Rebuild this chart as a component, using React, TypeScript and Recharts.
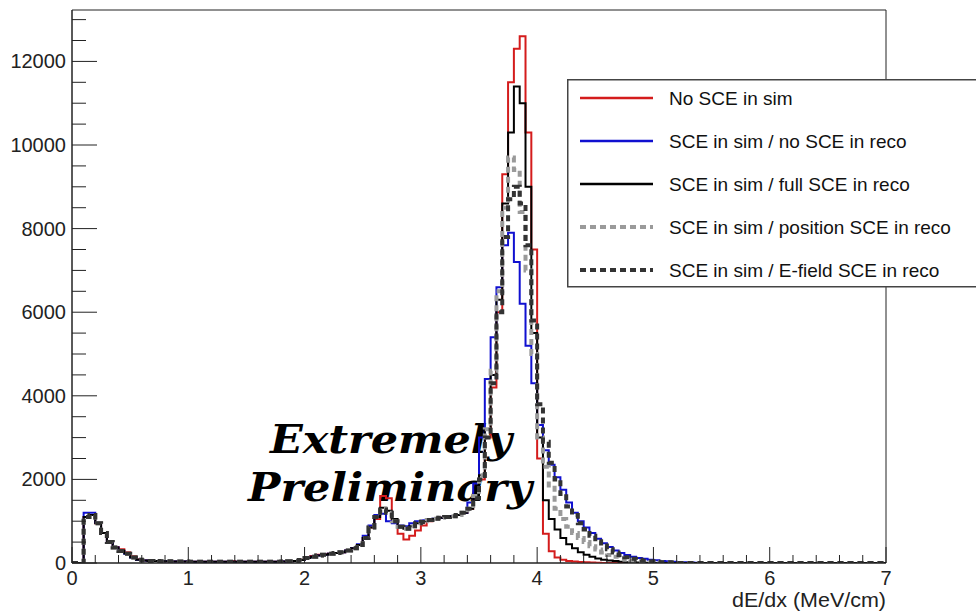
import { LineChart, Line, XAxis, YAxis, Legend, ReferenceArea } from 'recharts';

// histogram bins: 0.05 MeV/cm wide, starting at 0
const BIN_WIDTH = 0.05;

const NO_SCE = [
    0, 0, 1100, 1150, 950, 720, 500, 380, 330, 260,
    170, 90, 60, 50, 45, 40, 40, 35, 35, 35,
    30, 30, 30, 30, 30, 30, 30, 50, 30, 30,
    30, 30, 30, 30, 30, 30, 35, 40, 50, 80,
    140, 170, 200, 210, 220, 240, 260, 300, 350, 430,
    600, 850, 1050, 1600, 1550, 1000, 700, 560, 650, 780,
    900, 1000, 1050, 1080, 1100, 1120, 1150, 1200, 1300, 1600,
    2000, 3000, 4200, 6000, 9300, 11500, 12300, 12600, 10300, 7500,
    2500, 700, 280, 130, 80, 50, 35, 25, 15, 10,
    5, 0, 0, 0, 0, 0, 0, 0, 0, 0,
    0, 0, 0, 0, 0, 0, 0, 0, 0, 0,
    0, 0, 0, 0, 0, 0, 0, 0, 0, 0,
    0, 0, 0, 0, 0, 0, 0, 0, 0, 0,
    0, 0, 0, 0, 0, 0, 0, 0, 0, 0,
];

const SIM_NO_RECO = [
    0, 0, 1200, 1200, 960, 720, 500, 370, 290, 220,
    130, 80, 60, 50, 45, 40, 40, 35, 35, 35,
    30, 30, 30, 30, 30, 30, 30, 30, 30, 30,
    30, 30, 30, 30, 30, 30, 35, 40, 50, 70,
    120, 150, 180, 200, 220, 240, 260, 300, 350, 450,
    650, 900, 1150, 1180, 1000, 950, 900, 880, 950, 1000,
    1020, 1040, 1060, 1080, 1100, 1120, 1150, 1200, 1450, 1900,
    3000, 4400, 5400, 6600, 7600, 7900, 7200, 6200, 5200, 4300,
    3300, 2700, 2350, 2050, 1750, 1450, 1200, 1000, 850, 720,
    580, 470, 380, 300, 240, 190, 150, 120, 100, 80,
    65, 50, 40, 30, 20, 15, 10, 5, 0, 0,
    0, 0, 0, 0, 0, 0, 0, 0, 0, 0,
    0, 0, 0, 0, 0, 0, 0, 0, 0, 0,
    0, 0, 0, 0, 0, 0, 0, 0, 0, 0,
];

const SIM_FULL_RECO = [
    0, 0, 1100, 1150, 950, 720, 500, 370, 300, 230,
    130, 80, 60, 50, 45, 40, 40, 35, 35, 35,
    30, 30, 30, 30, 30, 30, 30, 30, 30, 30,
    30, 30, 30, 30, 30, 30, 35, 40, 50, 70,
    120, 150, 180, 200, 220, 240, 260, 300, 350, 430,
    600, 850, 1100, 1320, 1250, 1050, 850, 820, 880, 950,
    1000, 1030, 1060, 1080, 1100, 1120, 1150, 1200, 1300, 1600,
    2100, 3200, 4500, 6300, 8600, 10300, 11400, 11000, 9000, 5500,
    3000, 1500, 1050, 800, 600, 450, 350, 260, 200, 150,
    110, 80, 60, 45, 30, 20, 15, 10, 5, 0,
    0, 0, 0, 0, 0, 0, 0, 0, 0, 0,
    0, 0, 0, 0, 0, 0, 0, 0, 0, 0,
    0, 0, 0, 0, 0, 0, 0, 0, 0, 0,
    0, 0, 0, 0, 0, 0, 0, 0, 0, 0,
];

const SIM_POS_RECO = [
    0, 0, 1100, 1150, 950, 720, 500, 370, 290, 220,
    130, 80, 60, 50, 45, 40, 40, 35, 35, 35,
    30, 30, 30, 30, 30, 30, 30, 30, 30, 30,
    30, 30, 30, 30, 30, 30, 35, 40, 50, 70,
    120, 150, 180, 200, 220, 240, 260, 300, 350, 430,
    600, 850, 1100, 1300, 1200, 1000, 870, 820, 880, 950,
    1000, 1030, 1060, 1080, 1100, 1120, 1150, 1200, 1300, 1600,
    2100, 3200, 4600, 6500, 8500, 9700, 9400, 8400, 7000, 5000,
    3000, 2300, 1800, 1300, 1050, 870, 720, 600, 500, 400,
    320, 250, 190, 150, 110, 80, 60, 45, 35, 25,
    20, 15, 10, 5, 0, 0, 0, 0, 0, 0,
    0, 0, 0, 0, 0, 0, 0, 0, 0, 0,
    0, 0, 0, 0, 0, 0, 0, 0, 0, 0,
    0, 0, 0, 0, 0, 0, 0, 0, 0, 0,
];

const SIM_EFIELD_RECO = [
    0, 0, 1100, 1150, 950, 720, 500, 370, 290, 220,
    130, 80, 60, 50, 45, 40, 40, 35, 35, 35,
    30, 30, 30, 30, 30, 30, 30, 30, 30, 30,
    30, 30, 30, 30, 30, 30, 35, 40, 50, 70,
    120, 150, 180, 200, 220, 240, 260, 300, 350, 430,
    600, 850, 1100, 1280, 1200, 1000, 870, 820, 880, 950,
    980, 1030, 1060, 1080, 1100, 1120, 1150, 1200, 1300, 1550,
    2000, 3000, 4300, 6000, 7800, 8700, 9000, 8600, 7600, 5800,
    3800, 2900, 2400, 2000, 1650, 1350, 1150, 950, 800, 650,
    520, 420, 330, 250, 190, 140, 100, 75, 55, 40,
    30, 20, 15, 10, 0, 0, 0, 0, 0, 0,
    0, 0, 0, 0, 0, 0, 0, 0, 0, 0,
    0, 0, 0, 0, 0, 0, 0, 0, 0, 0,
    0, 0, 0, 0, 0, 0, 0, 0, 0, 0,
];

const X_TICKS = [
    0, 0.2, 0.4, 0.6, 0.8, 1, 1.2, 1.4, 1.6, 1.8, 2, 2.2, 2.4, 2.6, 2.8, 3, 3.2, 3.4,
    3.6, 3.8, 4, 4.2, 4.4, 4.6, 4.8, 5, 5.2, 5.4, 5.6, 5.8, 6, 6.2, 6.4, 6.6, 6.8, 7,
];
const Y_TICKS = [
    0, 500, 1000, 1500, 2000, 2500, 3000, 3500, 4000, 4500, 5000, 5500, 6000, 6500,
    7000, 7500, 8000, 8500, 9000, 9500, 10000, 10500, 11000, 11500, 12000, 12500, 13000,
];
const X_MAX = 7;
const Y_MAX = 13230;

const SERIES = [
    { key: 'noSce', name: 'No SCE in sim', values: NO_SCE, color: '#d41c1c', width: 2, dash: undefined },
    { key: 'simNoReco', name: 'SCE in sim / no SCE in reco', values: SIM_NO_RECO, color: '#1010d0', width: 2, dash: undefined },
    { key: 'simFull', name: 'SCE in sim / full SCE in reco', values: SIM_FULL_RECO, color: '#000000', width: 2, dash: undefined },
    { key: 'simPos', name: 'SCE in sim / position SCE in reco', values: SIM_POS_RECO, color: '#9a9a9a', width: 4, dash: '6 4' },
    { key: 'simEfield', name: 'SCE in sim / E-field SCE in reco', values: SIM_EFIELD_RECO, color: '#333333', width: 4, dash: '6 4' },
];

const rows = NO_SCE.map((_, i) => {
    const row: Record<string, number> = { x: +(i * BIN_WIDTH).toFixed(2) };
    SERIES.forEach((s) => (row[s.key] = s.values[i]));
    return row;
});
// close the last bin at the right edge
const last: Record<string, number> = { x: X_MAX };
SERIES.forEach((s) => (last[s.key] = s.values[s.values.length - 1]));
rows.push(last);

const FONT = '"Liberation Sans", Arial, Helvetica, sans-serif';

function XTick({ x, y, payload }: any) {
    const major = Number.isInteger(payload.value);
    return (
        <g>
            <line x1={x} x2={x} y1={y} y2={y - (major ? 16 : 8)} stroke="#222" strokeWidth={1} />
            {major && (
                <text x={x} y={y + 22} textAnchor="middle" fontSize={20} fontFamily={FONT} fill="#222">
                    {payload.value}
                </text>
            )}
        </g>
    );
}

function YTick({ x, y, payload }: any) {
    const major = payload.value % 2000 === 0;
    return (
        <g>
            <line x1={x} x2={x + (major ? 25 : 14)} y1={y} y2={y} stroke="#222" strokeWidth={1} />
            {major && (
                <text x={x - 6} y={y + 7} textAnchor="end" fontSize={20} fontFamily={FONT} fill="#222">
                    {payload.value}
                </text>
            )}
        </g>
    );
}

function AxisTitle({ viewBox }: any) {
    return (
        <text
            x={viewBox.x + viewBox.width}
            y={viewBox.y + viewBox.height - 4}
            textAnchor="end"
            fontSize={20}
            textLength={154}
            lengthAdjust="spacingAndGlyphs"
            fontFamily={FONT}
            fill="#222"
        >
            dE/dx (MeV/cm)
        </text>
    );
}

// legend keeps the drawing order of the series
function LegendBox() {
    return (
        <svg width={420} height={209} style={{ display: 'block' }}>
            <rect x={0.75} y={0.75} width={418} height={207} fill="#fff" stroke="#444" strokeWidth={1.5} />
            {SERIES.map((s, i) => {
                const cy = 19 + i * 43;
                return (
                    <g key={s.key}>
                        <line x1={13} x2={86} y1={cy} y2={cy} stroke={s.color} strokeWidth={s.dash ? 4 : 2.5} strokeDasharray={s.dash} />
                        <text x={102} y={cy + 7} fontSize={19} fontFamily={FONT} fill="#111">
                            {s.name}
                        </text>
                    </g>
                );
            })}
        </svg>
    );
}

export default function App() {
    const stamp = { fontSize: 39, fontWeight: 'bold', fontStyle: 'italic', fontFamily: '"DejaVu Serif", serif' } as const;
    return (
        <div style={{ position: 'absolute', left: 0, top: 0, width: 976, height: 611, overflow: 'hidden', background: '#fff' }}>
            <svg width={976} height={611} style={{ position: 'absolute', left: 0, top: 0 }}>
                <text x={391} y={453} textAnchor="middle" textLength={242} lengthAdjust="spacingAndGlyphs" fill="#000" {...stamp}>
                    Extremely
                </text>
                <text x={390} y={501} textAnchor="middle" textLength={284} lengthAdjust="spacingAndGlyphs" fill="#000" {...stamp}>
                    Preliminary
                </text>
            </svg>
            <div style={{ position: 'absolute', left: 0, top: 0 }}>
                <LineChart width={976} height={611} data={rows} margin={{ top: 10, right: 90, bottom: 0, left: 0 }}>
                    <XAxis
                        type="number"
                        dataKey="x"
                        domain={[0, X_MAX]}
                        ticks={X_TICKS}
                        interval={0}
                        height={48}
                        tickSize={0}
                        tickMargin={0}
                        tickLine={false}
                        tick={<XTick />}
                        axisLine={{ stroke: '#222' }}
                        allowDataOverflow
                        label={<AxisTitle />}
                    />
                    <YAxis
                        type="number"
                        domain={[0, Y_MAX]}
                        ticks={Y_TICKS}
                        interval={0}
                        width={72}
                        tickSize={0}
                        tickMargin={0}
                        tickLine={false}
                        tick={<YTick />}
                        axisLine={{ stroke: '#222' }}
                        allowDataOverflow
                    />
                    <ReferenceArea x1={0} x2={X_MAX} y1={0} y2={Y_MAX} fill="none" stroke="#222" strokeWidth={1} ifOverflow="visible" />
                    {SERIES.map((s) => (
                        <Line
                            key={s.key}
                            type="stepAfter"
                            dataKey={s.key}
                            name={s.name}
                            stroke={s.color}
                            strokeWidth={s.width}
                            strokeDasharray={s.dash}
                            dot={false}
                            activeDot={false}
                            isAnimationActive={false}
                        />
                    ))}
                    <Legend
                        layout="vertical"
                        align="center"
                        verticalAlign="middle"
                        width={420}
                        height={209}
                        wrapperStyle={{ left: 567, top: 79, width: 420, height: 209 }}
                        content={<LegendBox />}
                    />
                </LineChart>
            </div>
        </div>
    );
}
